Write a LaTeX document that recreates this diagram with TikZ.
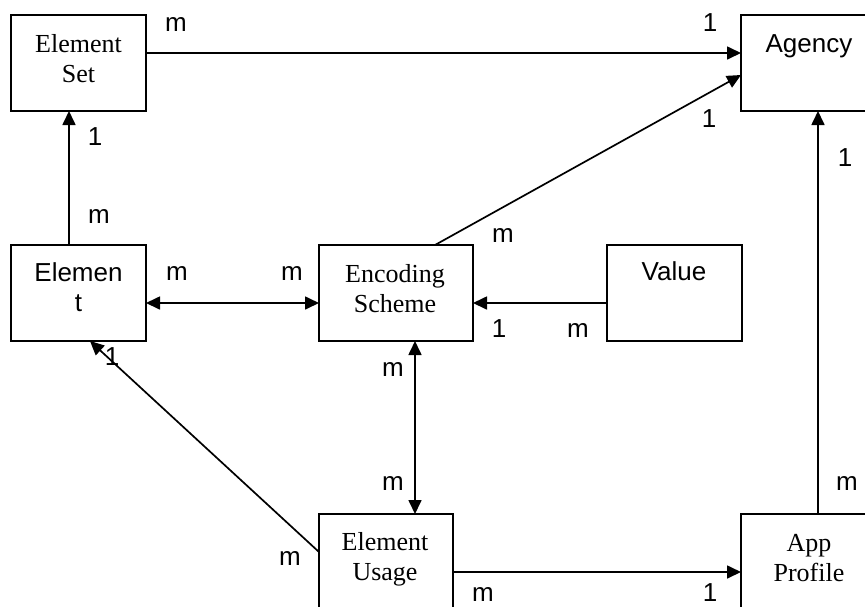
\documentclass[tikz,border=0pt]{standalone}
\usepackage{fontspec}
\setmainfont{Liberation Serif}
\newfontfamily\lsans{Liberation Sans}
\usetikzlibrary{arrows.meta}
\begin{document}
\begin{tikzpicture}[x=1pt,y=-1pt,
  box/.style={draw,line width=1.8pt,rectangle,inner sep=0pt,outer sep=0pt,anchor=north west,minimum height=96pt},
  btxt/.style={anchor=base,inner sep=0pt,font=\fontsize{26}{30}\selectfont,align=center},
  stxt/.style={btxt,font=\lsans\fontsize{26}{30}\selectfont},
  lab/.style={anchor=base,inner sep=0pt,font=\lsans\fontsize{26}{30}\selectfont},
  conn/.style={line width=1.7pt,-{Triangle[length=14pt,width=13pt]}},
  conn2/.style={line width=1.7pt,{Triangle[length=14pt,width=13pt]}-{Triangle[length=14pt,width=13pt]}}]
\useasboundingbox (0,0) rectangle (865,606);
\clip (0,0) rectangle (865,606);
% boxes
\node[box,minimum width=135pt] (es) at (11,15) {};
\node[box,minimum width=136pt] (ag) at (741,15) {};
\node[box,minimum width=135pt] (el) at (11,245) {};
\node[box,minimum width=154pt] (enc) at (319,245) {};
\node[box,minimum width=135pt] (val) at (607,245) {};
\node[box,minimum width=134pt] (eu) at (319,514) {};
\node[box,minimum width=136pt] (ap) at (741,514) {};
% box texts (two-line texts placed by the baseline of their last line)
\node[btxt] (tes) at (78.5,82) {Element\\Set};
\node[stxt] (tag) at (809,52) {Agency};
\node[stxt] (tel) at (78.5,311) {Elemen\\t};
\node[btxt] (tenc) at (395,312) {Encoding\\Scheme};
\node[stxt] (tval) at (674,280) {Value};
\node[btxt] (teu) at (385,580) {Element\\Usage};
\node[btxt] (tap) at (809,581) {App\\Profile};
% connectors
\draw[conn] ([yshift=10pt]es.east) -- ([yshift=10pt]ag.west);
\draw[conn] ([xshift=-9.5pt]el.north) -- ([xshift=-9.5pt]es.south);
\draw[conn2] ([yshift=-10pt]el.east) -- ([yshift=-10pt]enc.west);
\draw[conn] ([yshift=-10pt]val.west) -- ([yshift=-10pt]enc.east);
\draw[conn] ([xshift=39pt]enc.north) -- ([yshift=-12pt]ag.west);
\draw[conn2] ([xshift=19pt]enc.south) -- ([xshift=29pt]eu.north);
\draw[conn] ([yshift=10pt]eu.west) -- ([xshift=11.5pt]el.south);
\draw[conn] ([yshift=-10pt]eu.east) -- ([yshift=-10pt]ap.west);
\draw[conn] ([xshift=9pt]ap.north) -- ([xshift=9pt]ag.south);
% multiplicity labels
\node[lab] (l1) at (176,31) {m};
\node[lab] (l2) at (710,31) {1};
\node[lab] (l3) at (709,127) {1};
\node[lab] (l4) at (95,145) {1};
\node[lab] (l5) at (99,223) {m};
\node[lab] (l6) at (177,280) {m};
\node[lab] (l7) at (292,280) {m};
\node[lab] (l8) at (503,242) {m};
\node[lab] (l9) at (499,337) {1};
\node[lab] (l10) at (578,337) {m};
\node[lab] (l11) at (845,166) {1};
\node[lab] (l12) at (112,365) {1};
\node[lab] (l13) at (393,376) {m};
\node[lab] (l14) at (393,490) {m};
\node[lab] (l15) at (290,565) {m};
\node[lab] (l16) at (483,601) {m};
\node[lab] (l17) at (710,601) {1};
\node[lab] (l18) at (847,490) {m};
\end{tikzpicture}
\end{document}
